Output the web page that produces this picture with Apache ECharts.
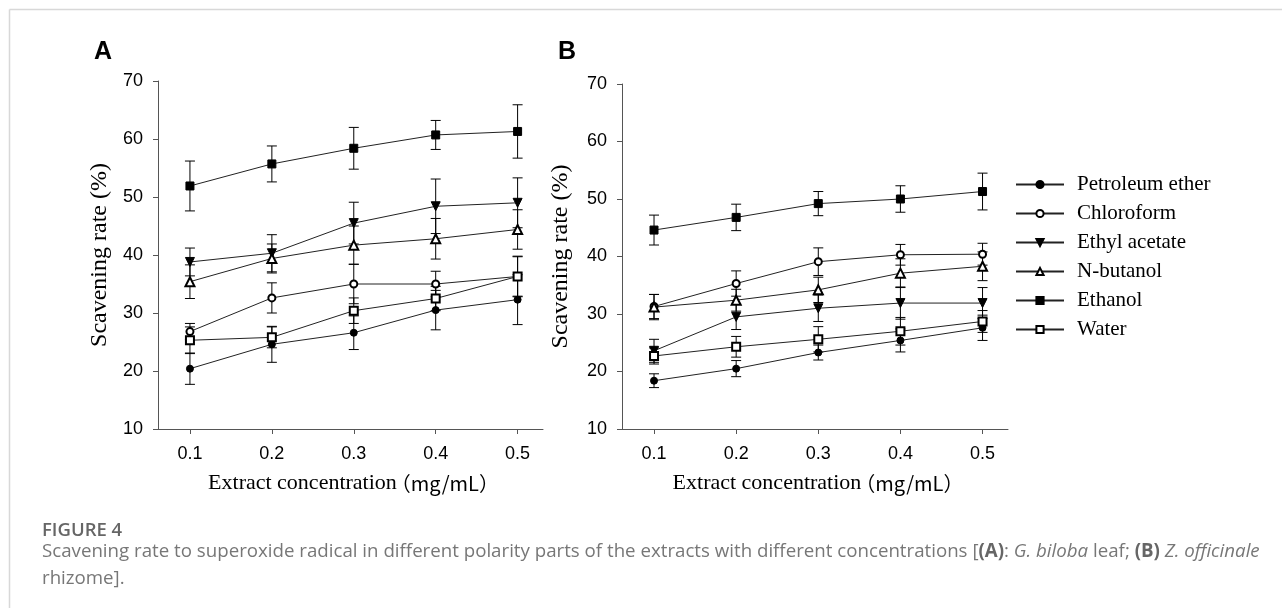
<!DOCTYPE html>
<html>
<head>
<meta charset="utf-8">
<script src="https://cdn.jsdelivr.net/npm/echarts@6/dist/echarts.min.js"></script>
<style>
  html, body { margin: 0; padding: 0; background: #fff; }
  #main { width: 1282px; height: 608px; }
</style>
</head>
<body>
<div id="main"></div>
<script>
// extract concentration (mg/mL)
var concentrations = [0.1, 0.2, 0.3, 0.4, 0.5];
var solvents = ['Petroleum ether', 'Chloroform', 'Ethyl acetate', 'N-butanol', 'Ethanol', 'Water'];

// panel A: G. biloba leaf (mean, sd)
var aPetroleum = [20.4, 24.6, 26.6, 30.5, 32.3];
var aPetroleumSd = [2.7, 3.1, 2.9, 3.4, 4.3];
var aChloroform = [26.8, 32.6, 35.0, 35.0, 36.3];
var aChloroformSd = [1.4, 2.6, 3.4, 2.2, 3.5];
var aEthylAcetate = [38.8, 40.3, 45.5, 48.4, 49.0];
var aEthylAcetateSd = [2.4, 3.2, 3.6, 4.7, 4.3];
var aButanol = [35.4, 39.4, 41.7, 42.8, 44.4];
var aButanolSd = [2.9, 2.5, 3.3, 3.5, 3.4];
var aEthanol = [51.9, 55.7, 58.4, 60.7, 61.3];
var aEthanolSd = [4.3, 3.1, 3.6, 2.5, 4.6];
var aWater = [25.3, 25.8, 30.4, 32.5, 36.3];
var aWaterSd = [2.3, 1.8, 2.2, 2.1, 3.4];

// panel B: Z. officinale rhizome (mean, sd)
var bPetroleum = [18.4, 20.5, 23.3, 25.4, 27.6];
var bPetroleumSd = [1.2, 1.4, 1.3, 2.0, 2.2];
var bChloroform = [31.3, 35.3, 39.1, 40.3, 40.4];
var bChloroformSd = [2.1, 2.2, 2.4, 1.8, 1.9];
var bEthylAcetate = [23.6, 29.5, 31.0, 31.9, 31.9];
var bEthylAcetateSd = [2.0, 2.2, 2.3, 2.8, 2.7];
var bButanol = [31.2, 32.4, 34.2, 37.1, 38.3];
var bButanolSd = [2.2, 1.9, 2.2, 2.5, 2.5];
var bEthanol = [44.6, 46.8, 49.2, 50.0, 51.3];
var bEthanolSd = [2.6, 2.3, 2.1, 2.3, 3.2];
var bWater = [22.7, 24.3, 25.6, 27.0, 28.7];
var bWaterSd = [1.4, 1.8, 2.2, 2.4, 1.9];

var yTicks = [10, 20, 30, 40, 50, 60, 70];

var panelA = [aPetroleum, aChloroform, aEthylAcetate, aButanol, aEthanol, aWater];
var panelASd = [aPetroleumSd, aChloroformSd, aEthylAcetateSd, aButanolSd, aEthanolSd, aWaterSd];
var panelB = [bPetroleum, bChloroform, bEthylAcetate, bButanol, bEthanol, bWater];
var panelBSd = [bPetroleumSd, bChloroformSd, bEthylAcetateSd, bButanolSd, bEthanolSd, bWaterSd];

var symbols = ['circle', 'emptyCircle', 'path://M0,0L10,0L5,9Z', 'emptyTriangle', 'rect', 'emptyRect'];
var symbolSizes = [7, 7, 9, 9, 8, 8];

var serif = '"Liberation Serif", "Times New Roman", serif';
var sans = '"Liberation Sans", Arial, sans-serif';

var myChart = echarts.init(document.getElementById('main'));

function errorBar(params, api) {
  var x = api.value(0);
  var lo = api.coord([x, api.value(1)]);
  var hi = api.coord([x, api.value(2)]);
  var half = 5;
  var st = { stroke: '#000', lineWidth: 1 };
  return {
    type: 'group',
    children: [
      { type: 'line', shape: { x1: lo[0], y1: lo[1], x2: hi[0], y2: hi[1] }, style: st },
      { type: 'line', shape: { x1: lo[0] - half, y1: lo[1], x2: lo[0] + half, y2: lo[1] }, style: st },
      { type: 'line', shape: { x1: hi[0] - half, y1: hi[1], x2: hi[0] + half, y2: hi[1] }, style: st }
    ]
  };
}

function xAxisFor(idx) {
  return {
    type: 'value',
    gridIndex: idx,
    min: 0.061,
    max: 0.531,
    name: '{a|Extract concentration}{b|（mg/mL）}',
    nameLocation: 'middle',
    nameGap: 43,
    nameTextStyle: {
      rich: {
        a: { fontFamily: serif, fontSize: 22, color: '#000', padding: [0, 0, 0, 6] },
        b: { fontFamily: '"Noto Sans CJK SC", sans-serif', fontSize: 20, color: '#000', padding: [0, 0, 0, -6] }
      }
    },
    axisLine: { lineStyle: { color: '#555', width: 1 } },
    axisTick: { show: true, length: 5, customValues: concentrations, lineStyle: { color: '#555' } },
    axisLabel: {
      customValues: concentrations,
      margin: 16,
      fontFamily: sans,
      fontSize: 18,
      color: '#000',
      formatter: function (v) { return v.toFixed(1); }
    },
    splitLine: { show: false }
  };
}

function yAxisFor(idx, gap) {
  return {
    type: 'value',
    gridIndex: idx,
    min: yTicks[0],
    max: yTicks[yTicks.length - 1],
    interval: 10,
    name: 'Scavening rate (%)',
    nameLocation: 'middle',
    nameRotate: 90,
    nameGap: gap,
    nameTextStyle: { fontFamily: serif, fontSize: 24, color: '#000' },
    axisLine: { show: true, lineStyle: { color: '#555', width: 1 } },
    axisTick: { show: true, length: 5, lineStyle: { color: '#555' } },
    axisLabel: { margin: 15, fontFamily: sans, fontSize: 18, color: '#000' },
    splitLine: { show: false }
  };
}

var series = [];
[[panelA, panelASd], [panelB, panelBSd]].forEach(function (panel, p) {
  solvents.forEach(function (name, i) {
    var means = panel[0][i];
    var sds = panel[1][i];
    series.push({
      type: 'custom',
      xAxisIndex: p,
      yAxisIndex: p,
      renderItem: errorBar,
      encode: { x: 0, y: [1, 2] },
      z: 2,
      silent: true,
      data: concentrations.map(function (c, k) {
        return [c, +(means[k] - sds[k]).toFixed(2), +(means[k] + sds[k]).toFixed(2)];
      })
    });
    series.push({
      name: name,
      type: 'line',
      xAxisIndex: p,
      yAxisIndex: p,
      z: 3,
      symbol: symbols[i],
      symbolSize: symbolSizes[i],
      showAllSymbol: true,
      lineStyle: { color: '#222', width: 1 },
      itemStyle: { color: '#000', borderColor: '#000', borderWidth: 1 },
      data: concentrations.map(function (c, k) { return [c, means[k]]; })
    });
  });
});

var option = {
  backgroundColor: '#fff',
  animation: false,
  grid: [
    { left: 158, top: 81, width: 385, height: 348 },
    { left: 622, top: 84, width: 386, height: 345 }
  ],
  xAxis: [xAxisFor(0), xAxisFor(1)],
  yAxis: [yAxisFor(0, 46), yAxisFor(1, 49)],
  legend: {
    data: solvents,
    orient: 'vertical',
    left: 1015,
    top: 174,
    padding: 0,
    itemWidth: 48,
    itemHeight: 9,
    itemGap: 8,
    selectedMode: false,
    textStyle: { fontFamily: serif, fontSize: 21, lineHeight: 21, color: '#000', padding: [0, 0, 0, 8] }
  },
  graphic: [
    { type: 'line', shape: { x1: 9.5, y1: 9.5, x2: 1282, y2: 9.5 }, style: { stroke: '#d8d8d8', lineWidth: 1.5 } },
    { type: 'line', shape: { x1: 9.5, y1: 9.5, x2: 9.5, y2: 608 }, style: { stroke: '#d8d8d8', lineWidth: 1.5 } },
    { type: 'text', left: 94, top: 40, style: { text: 'A', font: 'bold 25px ' + sans, fill: '#000' } },
    { type: 'text', left: 558, top: 40, style: { text: 'B', font: 'bold 25px ' + sans, fill: '#000' } },
    { type: 'text', left: 42, top: 521, style: { text: 'FIGURE 4', font: '600 18.5px "Open Sans", sans-serif', fill: '#666' } },
    {
      type: 'text', left: 42, top: 538,
      style: {
        text: 'Scavening rate to superoxide radical in different polarity parts of the extracts with different concentrations [{b|(A)}: {i|G. biloba} leaf; {b|(B)} {i|Z. officinale}\nrhizome].',
        font: '18.7px "Open Sans", sans-serif',
        fill: '#777',
        lineHeight: 27,
        rich: {
          b: { fontFamily: '"Open Sans", sans-serif', fontSize: 18.7, fontWeight: 'bold', fill: '#666', lineHeight: 27 },
          i: { fontFamily: '"Open Sans", sans-serif', fontSize: 18.7, fontStyle: 'italic', fill: '#777', lineHeight: 27 }
        }
      }
    }
  ],
  series: series
};

myChart.setOption(option);
</script>
</body>
</html>
